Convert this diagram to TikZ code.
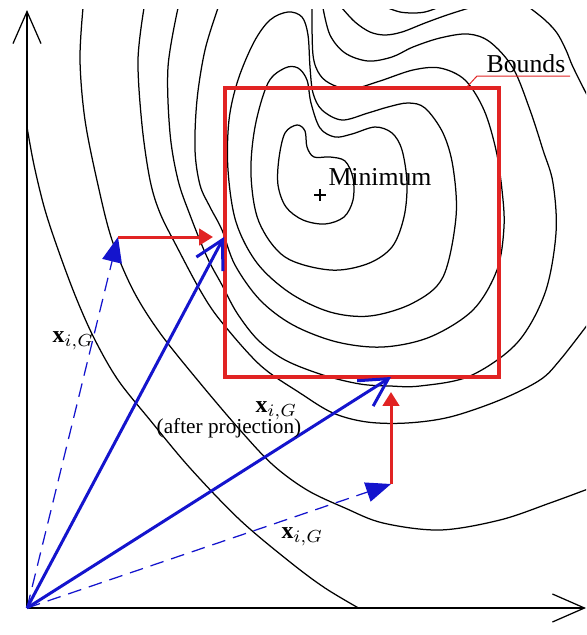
\documentclass[tikz,border=0pt]{standalone}
\usepackage{fontspec}
\setmainfont{Liberation Serif}
\usetikzlibrary{arrows.meta}
\definecolor{vecblue}{RGB}{20,20,205}
\definecolor{boundred}{RGB}{225,35,35}

\begin{document}
\begin{tikzpicture}[x=0.4pt, y=-0.4pt,
    contour/.style={line width=0.5pt, smooth, tension=0.55},
    axis/.style={line width=0.5pt, -{Straight Barb[length=12.8pt, width=11.2pt]}},
    bounds/.style={draw=boundred, line width=1.6pt},
    vec/.style={draw=vecblue, line width=1.2pt, -{Straight Barb[length=11pt, width=12pt]}},
    trial/.style={draw=vecblue, line width=0.5pt, dash pattern=on 5.5pt off 3.2pt, -{Triangle[length=10pt, width=8pt]}},
    move/.style={draw=boundred, line width=1.2pt, -{Triangle[length=5.5pt, width=6.5pt]}},
    lbl/.style={inner sep=0pt, font=\fontsize{10.3}{12}\selectfont},
    mlbl/.style={inner sep=0pt, font=\fontsize{9.5}{11}\selectfont}
]
\useasboundingbox (0,0) rectangle (587,635);

% points of the picture
\coordinate (O) at (27,608);
\coordinate (ytip) at (27,10);
\coordinate (xtip) at (586,608);
\coordinate (trialA) at (118,237);
\coordinate (projA) at (224,237);
\coordinate (trialB) at (391,484);
\coordinate (projB) at (391,377);

% level curves
\begin{scope}
\clip (27,9) rectangle (586,608);
\draw[contour] plot coordinates {(27,127) (34,165) (45,210) (60,255) (77,300) (95,340) (118,380) (150,420) (190,468) (240,520) (290,562) (325,588) (362,610)};
\draw[contour] plot coordinates {(83,8) (80,60) (85,120) (98,185) (112,240) (133,290) (160,333) (200,383) (240,430) (273,465) (307,490) (345,508) (383,523) (440,530) (500,520) (550,503) (588,489)};
\draw[contour] plot coordinates {(144,8) (138,60) (142,125) (150,180) (160,213) (177,247) (200,290) (220,320) (260,365) (300,393) (333,413) (367,422) (407,423) (450,417) (500,400) (540,380) (560,360) (588,324)};
\draw[contour] plot coordinates {(178,8) (168,67) (170,133) (178,180) (190,215) (207,257) (222,285) (237,313) (258,340) (285,360) (323,375) (360,384) (390,386) (420,386) (470,376) (517,343) (545,293) (556,233) (553,183) (543,150) (530,110) (513,68) (490,42) (468,34) (440,38) (413,47) (392,57) (368,61) (345,53) (330,35) (323,8)};
\draw[contour] plot coordinates {(218,8) (205,50) (197,100) (195,150) (200,185) (210,207) (222,230) (235,265) (260,300) (293,325) (337,342) (383,347) (430,337) (473,310) (497,270) (504,227) (502,190) (496,150) (484,110) (465,80) (440,68) (413,70) (380,81) (352,89) (333,85) (320,75) (313,55) (312,8)};
\draw[contour, smooth cycle] plot coordinates {(288,12) (302,17) (308,35) (310,67) (313,93) (322,110) (342,120) (368,113) (388,107) (408,103) (425,108) (443,133) (453,167) (456,217) (443,277) (413,303) (370,316) (330,312) (290,293) (257,263) (236,222) (228,170) (229,120) (238,80) (254,42) (270,20)};
\draw[contour, smooth cycle] plot coordinates {(268,83) (285,68) (298,68) (307,80) (311,103) (320,128) (335,137) (352,134) (375,127) (392,133) (402,150) (407,183) (404,217) (392,247) (367,264) (330,270) (285,257) (259,222) (251,175) (255,127)};
\draw[contour, smooth cycle] plot coordinates {(285,133) (297,125) (305,131) (307,147) (314,157) (330,157) (345,161) (353,178) (353,200) (344,217) (325,224) (303,220) (286,207) (278,185) (279,158)};
\draw[contour] plot coordinates {(342,8) (355,22) (370,32) (385,35) (402,32) (425,23) (447,15) (469,8)};
\draw[contour] plot coordinates {(388,8) (400,12) (413,13) (425,12) (437,8)};
\draw[contour] plot coordinates {(530,8) (545,20) (557,33) (566,50) (573,67) (588,97)};
\end{scope}

% axes
\draw[axis] (O) -- (ytip);
\draw[axis] (O) -- (xtip);

% bounds box and its label
\draw[bounds] (225,88) rectangle (499,377);
\node[lbl, anchor=base] (boundslbl) at (526,72) {Bounds};
\coordinate (lead) at (466,88);
\draw[boundred, line width=0.4pt] (lead) -- (477,76) -- (570,76);

% minimum
\coordinate (minpt) at (320,195);
\draw[line width=0.5pt] (314,195) -- (326,195) (320,189) -- (320,201);
\node[lbl, anchor=base west] (minlbl) at (328,185) {Minimum};

% trial vectors and projections
\draw[trial] (O) -- (trialA);
\draw[trial] (O) -- (trialB);
\draw[move, shorten >=4.4pt] (trialA) -- (projA);
\draw[move, shorten >=6pt] (trialB) -- (projB);
\draw[vec] (O) -- (projA);
\draw[vec] (O) -- (projB);

% labels
\node[mlbl, anchor=base west] (xlblA) at (52,342) {$\mathbf{x}_{i,G}$};
\node[mlbl, anchor=base west] (xlblP) at (255,412) {$\mathbf{x}_{i,G}$};
\node[lbl, font=\fontsize{8.5}{10}\selectfont, anchor=base] (afterlbl) at (229,433) {(after projection)};
\node[mlbl, anchor=base west] (xlblB) at (281,538) {$\mathbf{x}_{i,G}$};
\end{tikzpicture}
\end{document}
